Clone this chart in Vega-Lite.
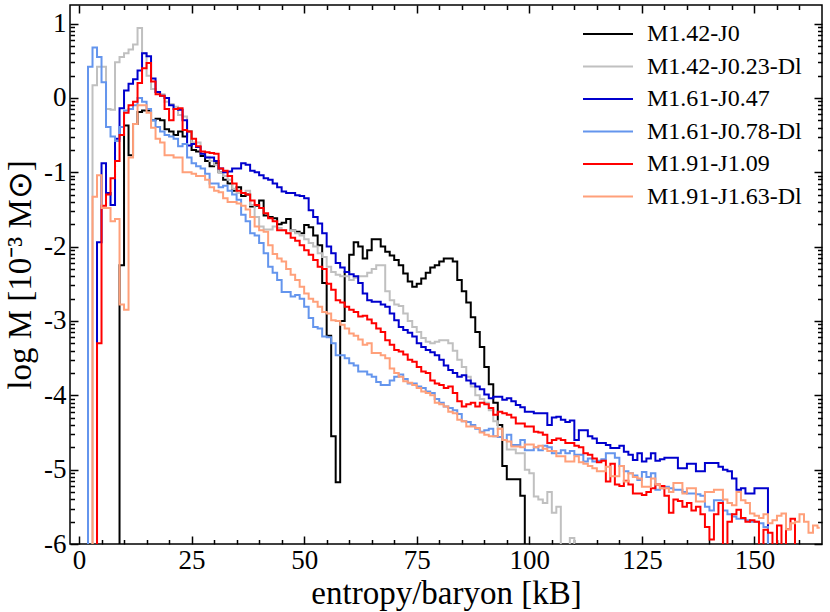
{
  "$schema": "https://vega.github.io/schema/vega-lite/v6.json",
  "width": 752,
  "height": 539,
  "autosize": "none",
  "padding": {"left": 70, "top": 5, "right": 8, "bottom": 68},
  "data": {
    "values": [
      {"x": 0.5, "a": -7, "b": -7, "c": -7, "d": -7, "e": -7, "f": -7},
      {"x": 1.5, "a": -7, "b": -7, "c": -7, "d": -7, "e": -7, "f": -7},
      {"x": 2.5, "a": -7, "b": -7, "c": -7, "d": 0.42, "e": -7, "f": -7},
      {"x": 3.5, "a": -7, "b": 0.17, "c": -7, "d": 0.68, "e": -7, "f": -1.33},
      {"x": 4.5, "a": -7, "b": 0.42, "c": -1.94, "d": 0.55, "e": -3.3, "f": -1.04},
      {"x": 5.5, "a": -7, "b": 0.42, "c": -0.88, "d": 0.21, "e": -1.45, "f": -1.48},
      {"x": 6.5, "a": -7, "b": -0.15, "c": -1.28, "d": -0.39, "e": -1.3, "f": -1.48},
      {"x": 7.5, "a": -7, "b": -0.16, "c": -1.44, "d": -0.52, "e": -1.08, "f": -1.66},
      {"x": 8.5, "a": -7, "b": 0.48, "c": -0.55, "d": -0.58, "e": -0.85, "f": -1.63},
      {"x": 9.5, "a": -2.25, "b": 0.55, "c": -0.14, "d": -0.39, "e": -0.5, "f": -2.78},
      {"x": 10.5, "a": -0.37, "b": 0.6, "c": 0.1, "d": -0.17, "e": -0.2, "f": -2.85},
      {"x": 11.5, "a": -0.77, "b": 0.65, "c": 0.19, "d": -0.15, "e": -0.1, "f": -0.8},
      {"x": 12.5, "a": -0.35, "b": 0.72, "c": 0.25, "d": -0.1, "e": -0.05, "f": -0.35},
      {"x": 13.5, "a": -0.19, "b": 0.94, "c": 0.37, "d": 0.0, "e": 0.2, "f": -0.1},
      {"x": 14.5, "a": -0.17, "b": 0.6, "c": 0.6, "d": -0.05, "e": 0.4, "f": -0.1},
      {"x": 15.5, "a": -0.17, "b": 0.3, "c": 0.56, "d": -0.15, "e": 0.47, "f": -0.2},
      {"x": 16.5, "a": -0.3, "b": 0.12, "c": 0.26, "d": -0.3, "e": 0.22, "f": -0.4},
      {"x": 17.5, "a": -0.28, "b": 0.08, "c": 0.08, "d": -0.39, "e": 0.05, "f": -0.55},
      {"x": 18.5, "a": -0.3, "b": 0.05, "c": 0.03, "d": -0.45, "e": 0.03, "f": -0.6},
      {"x": 19.5, "a": -0.42, "b": -0.05, "c": 0.0, "d": -0.5, "e": -0.15, "f": -0.77},
      {"x": 20.5, "a": -0.45, "b": -0.08, "c": -0.1, "d": -0.52, "e": -0.3, "f": -0.77},
      {"x": 21.5, "a": -0.5, "b": -0.12, "c": -0.15, "d": -0.55, "e": -0.15, "f": -0.8},
      {"x": 22.5, "a": -0.45, "b": -0.23, "c": -0.16, "d": -0.65, "e": -0.14, "f": -0.8},
      {"x": 23.5, "a": -0.52, "b": -0.25, "c": -0.3, "d": -0.62, "e": -0.43, "f": -1.0},
      {"x": 24.5, "a": -0.45, "b": -0.45, "c": -0.64, "d": -0.8, "e": -0.45, "f": -1.0},
      {"x": 25.5, "a": -0.7, "b": -0.6, "c": -0.62, "d": -0.88, "e": -0.55, "f": -1.02},
      {"x": 26.5, "a": -0.72, "b": -0.6, "c": -0.66, "d": -0.92, "e": -0.65, "f": -1.05},
      {"x": 27.5, "a": -0.78, "b": -0.75, "c": -0.75, "d": -0.95, "e": -0.72, "f": -1.05},
      {"x": 28.5, "a": -0.85, "b": -0.79, "c": -0.8, "d": -1.02, "e": -0.73, "f": -1.1},
      {"x": 29.5, "a": -0.92, "b": -0.85, "c": -0.8, "d": -1.15, "e": -0.74, "f": -1.2},
      {"x": 30.5, "a": -0.88, "b": -0.9, "c": -0.85, "d": -1.15, "e": -0.75, "f": -1.25},
      {"x": 31.5, "a": -1.0, "b": -1.0, "c": -0.95, "d": -1.2, "e": -0.95, "f": -1.27},
      {"x": 32.5, "a": -1.1, "b": -1.05, "c": -1.0, "d": -1.18, "e": -0.98, "f": -1.35},
      {"x": 33.5, "a": -1.15, "b": -1.1, "c": -0.99, "d": -1.25, "e": -1.05, "f": -1.4},
      {"x": 34.5, "a": -1.25, "b": -1.22, "c": -0.95, "d": -1.3, "e": -1.15, "f": -1.4},
      {"x": 35.5, "a": -1.2, "b": -1.28, "c": -0.95, "d": -1.37, "e": -1.25, "f": -1.42},
      {"x": 36.5, "a": -1.32, "b": -1.28, "c": -0.88, "d": -1.57, "e": -1.28, "f": -1.45},
      {"x": 37.5, "a": -1.3, "b": -1.25, "c": -0.9, "d": -1.66, "e": -1.3, "f": -1.5},
      {"x": 38.5, "a": -1.46, "b": -1.44, "c": -0.98, "d": -1.82, "e": -1.38, "f": -1.6},
      {"x": 39.5, "a": -1.45, "b": -1.6, "c": -1.0, "d": -1.85, "e": -1.44, "f": -1.73},
      {"x": 40.5, "a": -1.38, "b": -1.73, "c": -1.04, "d": -1.95, "e": -1.48, "f": -1.78},
      {"x": 41.5, "a": -1.58, "b": -1.77, "c": -1.08, "d": -2.09, "e": -1.55, "f": -1.8},
      {"x": 42.5, "a": -1.6, "b": -1.77, "c": -1.1, "d": -2.27, "e": -1.62, "f": -1.98},
      {"x": 43.5, "a": -1.62, "b": -1.73, "c": -1.15, "d": -2.35, "e": -1.66, "f": -2.1},
      {"x": 44.5, "a": -1.7, "b": -1.75, "c": -1.2, "d": -2.45, "e": -1.78, "f": -2.16},
      {"x": 45.5, "a": -1.68, "b": -1.78, "c": -1.26, "d": -2.61, "e": -1.78, "f": -2.2},
      {"x": 46.5, "a": -1.63, "b": -1.82, "c": -1.28, "d": -2.61, "e": -1.82, "f": -2.3},
      {"x": 47.5, "a": -1.78, "b": -1.78, "c": -1.28, "d": -2.67, "e": -1.88, "f": -2.38},
      {"x": 48.5, "a": -1.8, "b": -1.82, "c": -1.31, "d": -2.65, "e": -1.92, "f": -2.45},
      {"x": 49.5, "a": -1.82, "b": -1.85, "c": -1.32, "d": -2.7, "e": -1.98, "f": -2.54},
      {"x": 50.5, "a": -1.71, "b": -1.9, "c": -1.35, "d": -2.81, "e": -2.05, "f": -2.63},
      {"x": 51.5, "a": -1.74, "b": -1.95, "c": -1.51, "d": -2.96, "e": -2.11, "f": -2.7},
      {"x": 52.5, "a": -1.85, "b": -2.0, "c": -1.6, "d": -3.08, "e": -2.18, "f": -2.74},
      {"x": 53.5, "a": -1.98, "b": -2.09, "c": -1.69, "d": -3.1, "e": -2.27, "f": -2.81},
      {"x": 54.5, "a": -2.49, "b": -2.14, "c": -1.82, "d": -3.21, "e": -2.3, "f": -2.88},
      {"x": 55.5, "a": -3.2, "b": -2.27, "c": -2.0, "d": -3.22, "e": -2.5, "f": -2.9},
      {"x": 56.5, "a": -4.55, "b": -2.34, "c": -2.09, "d": -3.3, "e": -2.58, "f": -2.99},
      {"x": 57.5, "a": -5.17, "b": -2.38, "c": -2.22, "d": -3.46, "e": -2.72, "f": -3.0},
      {"x": 58.5, "a": -3.0, "b": -2.4, "c": -2.28, "d": -3.46, "e": -2.75, "f": -3.05},
      {"x": 59.5, "a": -2.34, "b": -2.4, "c": -2.34, "d": -3.5, "e": -2.81, "f": -3.1},
      {"x": 60.5, "a": -2.11, "b": -2.45, "c": -2.37, "d": -3.57, "e": -2.85, "f": -3.17},
      {"x": 61.5, "a": -1.94, "b": -2.42, "c": -2.4, "d": -3.6, "e": -2.88, "f": -3.2},
      {"x": 62.5, "a": -2.0, "b": -2.4, "c": -2.49, "d": -3.68, "e": -2.94, "f": -3.25},
      {"x": 63.5, "a": -2.16, "b": -2.4, "c": -2.63, "d": -3.68, "e": -2.93, "f": -3.32},
      {"x": 64.5, "a": -2.05, "b": -2.35, "c": -2.72, "d": -3.72, "e": -2.98, "f": -3.3},
      {"x": 65.5, "a": -1.9, "b": -2.3, "c": -2.74, "d": -3.75, "e": -3.03, "f": -3.43},
      {"x": 66.5, "a": -1.9, "b": -2.25, "c": -2.74, "d": -3.82, "e": -3.1, "f": -3.43},
      {"x": 67.5, "a": -2.0, "b": -2.25, "c": -2.78, "d": -3.86, "e": -3.15, "f": -3.46},
      {"x": 68.5, "a": -2.07, "b": -2.6, "c": -2.81, "d": -3.86, "e": -3.26, "f": -3.5},
      {"x": 69.5, "a": -2.12, "b": -2.72, "c": -2.9, "d": -3.8, "e": -3.32, "f": -3.64},
      {"x": 70.5, "a": -2.18, "b": -2.78, "c": -2.99, "d": -3.75, "e": -3.39, "f": -3.7},
      {"x": 71.5, "a": -2.25, "b": -2.8, "c": -3.08, "d": -3.72, "e": -3.41, "f": -3.75},
      {"x": 72.5, "a": -2.36, "b": -2.9, "c": -3.12, "d": -3.78, "e": -3.45, "f": -3.81},
      {"x": 73.5, "a": -2.47, "b": -3.0, "c": -3.16, "d": -3.84, "e": -3.52, "f": -3.83},
      {"x": 74.5, "a": -2.54, "b": -3.08, "c": -3.21, "d": -3.84, "e": -3.55, "f": -3.86},
      {"x": 75.5, "a": -2.5, "b": -3.15, "c": -3.3, "d": -3.88, "e": -3.62, "f": -3.9},
      {"x": 76.5, "a": -2.43, "b": -3.23, "c": -3.35, "d": -3.9, "e": -3.68, "f": -3.95},
      {"x": 77.5, "a": -2.35, "b": -3.28, "c": -3.39, "d": -3.95, "e": -3.7, "f": -3.97},
      {"x": 78.5, "a": -2.28, "b": -3.3, "c": -3.42, "d": -3.97, "e": -3.8, "f": -4.0},
      {"x": 79.5, "a": -2.25, "b": -3.28, "c": -3.46, "d": -4.05, "e": -3.84, "f": -4.1},
      {"x": 80.5, "a": -2.2, "b": -3.26, "c": -3.52, "d": -4.1, "e": -3.86, "f": -4.12},
      {"x": 81.5, "a": -2.16, "b": -3.26, "c": -3.6, "d": -4.15, "e": -3.9, "f": -4.15},
      {"x": 82.5, "a": -2.16, "b": -3.3, "c": -3.66, "d": -4.17, "e": -3.88, "f": -4.22},
      {"x": 83.5, "a": -2.2, "b": -3.4, "c": -3.7, "d": -4.2, "e": -3.97, "f": -4.24},
      {"x": 84.5, "a": -2.45, "b": -3.52, "c": -3.75, "d": -4.25, "e": -4.08, "f": -4.33},
      {"x": 85.5, "a": -2.6, "b": -3.62, "c": -3.73, "d": -4.35, "e": -4.15, "f": -4.35},
      {"x": 86.5, "a": -2.75, "b": -3.75, "c": -3.8, "d": -4.36, "e": -4.12, "f": -4.42},
      {"x": 87.5, "a": -2.95, "b": -3.88, "c": -3.84, "d": -4.4, "e": -4.1, "f": -4.42},
      {"x": 88.5, "a": -3.15, "b": -4.0, "c": -3.88, "d": -4.45, "e": -4.15, "f": -4.44},
      {"x": 89.5, "a": -3.35, "b": -4.05, "c": -3.92, "d": -4.49, "e": -4.1, "f": -4.5},
      {"x": 90.5, "a": -3.62, "b": -4.1, "c": -3.99, "d": -4.47, "e": -4.12, "f": -4.53},
      {"x": 91.5, "a": -3.85, "b": -4.2, "c": -4.04, "d": -4.45, "e": -4.17, "f": -4.55},
      {"x": 92.5, "a": -4.1, "b": -4.35, "c": -4.02, "d": -4.55, "e": -4.26, "f": -4.55},
      {"x": 93.5, "a": -4.4, "b": -4.45, "c": -4.02, "d": -4.56, "e": -4.22, "f": -4.45},
      {"x": 94.5, "a": -4.95, "b": -4.6, "c": -4.06, "d": -4.6, "e": -4.24, "f": -4.6},
      {"x": 95.5, "a": -5.13, "b": -4.73, "c": -4.04, "d": -4.53, "e": -4.26, "f": -4.62},
      {"x": 96.5, "a": -5.13, "b": -4.73, "c": -4.08, "d": -4.67, "e": -4.3, "f": -4.69},
      {"x": 97.5, "a": -5.13, "b": -4.78, "c": -4.13, "d": -4.67, "e": -4.38, "f": -4.69},
      {"x": 98.5, "a": -5.35, "b": -4.78, "c": -4.16, "d": -4.6, "e": -4.38, "f": -4.7},
      {"x": 99.5, "a": -7, "b": -5.0, "c": -4.22, "d": -4.74, "e": -4.42, "f": -4.66},
      {"x": 100.5, "b": -5.05, "c": -4.22, "d": -4.74, "e": -4.42, "f": -4.66},
      {"x": 101.5, "b": -5.36, "c": -4.24, "d": -4.7, "e": -4.49, "f": -4.7},
      {"x": 102.5, "b": -5.4, "c": -4.24, "d": -4.74, "e": -4.5, "f": -4.68},
      {"x": 103.5, "b": -5.45, "c": -4.24, "d": -4.68, "e": -4.53, "f": -4.72},
      {"x": 104.5, "b": -5.3, "c": -4.4, "d": -4.7, "e": -4.64, "f": -4.75},
      {"x": 105.5, "b": -5.58, "c": -4.3, "d": -4.78, "e": -4.6, "f": -4.75},
      {"x": 106.5, "b": -5.5, "c": -4.29, "d": -4.78, "e": -4.58, "f": -4.82},
      {"x": 107.5, "b": -7, "c": -4.33, "d": -4.74, "e": -4.6, "f": -4.82},
      {"x": 108.5, "b": -7, "c": -4.36, "d": -4.78, "e": -4.64, "f": -4.89},
      {"x": 109.5, "b": -5.92, "c": -4.34, "d": -4.75, "e": -4.64, "f": -4.89},
      {"x": 110.5, "b": -7, "c": -4.6, "d": -4.8, "e": -4.68, "f": -4.82},
      {"x": 111.5, "c": -4.47, "d": -4.8, "e": -4.7, "f": -4.9},
      {"x": 112.5, "c": -4.47, "d": -4.89, "e": -4.78, "f": -4.92},
      {"x": 113.5, "c": -4.55, "d": -4.85, "e": -4.8, "f": -4.95},
      {"x": 114.5, "c": -4.58, "d": -4.89, "e": -4.85, "f": -4.98},
      {"x": 115.5, "c": -4.64, "d": -4.88, "e": -4.9, "f": -5.02},
      {"x": 116.5, "c": -4.64, "d": -4.86, "e": -4.88, "f": -5.02},
      {"x": 117.5, "c": -4.67, "d": -4.78, "e": -5.16, "f": -4.96},
      {"x": 118.5, "c": -4.71, "d": -4.78, "e": -4.92, "f": -5.09},
      {"x": 119.5, "c": -4.71, "d": -4.84, "e": -5.2, "f": -5.09},
      {"x": 120.5, "c": -4.68, "d": -4.95, "e": -5.22, "f": -4.95},
      {"x": 121.5, "c": -4.76, "d": -5.02, "e": -5.15, "f": -5.16},
      {"x": 122.5, "c": -4.8, "d": -5.05, "e": -5.2, "f": -5.05},
      {"x": 123.5, "c": -4.87, "d": -5.08, "e": -5.32, "f": -5.1},
      {"x": 124.5, "c": -4.78, "d": -5.14, "e": -5.32, "f": -5.12},
      {"x": 125.5, "c": -4.89, "d": -5.03, "e": -5.34, "f": -5.23},
      {"x": 126.5, "c": -4.85, "d": -5.1, "e": -5.3, "f": -5.23},
      {"x": 127.5, "c": -4.78, "d": -5.05, "e": -5.25, "f": -5.12},
      {"x": 128.5, "c": -4.88, "d": -5.27, "e": -5.2, "f": -5.2},
      {"x": 129.5, "c": -4.86, "d": -5.25, "e": -5.22, "f": -5.25},
      {"x": 130.5, "c": -4.84, "d": -5.23, "e": -5.35, "f": -5.25},
      {"x": 131.5, "c": -4.84, "d": -5.25, "e": -5.58, "f": -5.3},
      {"x": 132.5, "c": -4.84, "d": -5.27, "e": -5.4, "f": -5.18},
      {"x": 133.5, "c": -4.98, "d": -5.27, "e": -5.42, "f": -5.18},
      {"x": 134.5, "c": -4.98, "d": -5.3, "e": -5.5, "f": -5.32},
      {"x": 135.5, "c": -4.92, "d": -5.32, "e": -5.45, "f": -5.25},
      {"x": 136.5, "c": -4.92, "d": -5.32, "e": -5.55, "f": -5.25},
      {"x": 137.5, "c": -5.02, "d": -5.33, "e": -5.5, "f": -5.43},
      {"x": 138.5, "c": -5.02, "d": -5.35, "e": -5.6, "f": -5.43},
      {"x": 139.5, "c": -4.91, "d": -5.5, "e": -5.77, "f": -5.3},
      {"x": 140.5, "c": -4.91, "d": -5.55, "e": -5.94, "f": -5.3},
      {"x": 141.5, "c": -4.91, "d": -5.41, "e": -5.6, "f": -5.27},
      {"x": 142.5, "c": -4.96, "d": -5.41, "e": -5.45, "f": -5.27},
      {"x": 143.5, "c": -5.0, "d": -5.55, "e": -6.3, "f": -5.4},
      {"x": 144.5, "c": -5.02, "d": -5.6, "e": -5.7, "f": -5.45},
      {"x": 145.5, "c": -5.12, "d": -5.63, "e": -5.6, "f": -5.48},
      {"x": 146.5, "c": -5.27, "d": -5.66, "e": -5.54, "f": -5.3},
      {"x": 147.5, "c": -5.25, "d": -5.66, "e": -5.65, "f": -5.41},
      {"x": 148.5, "c": -5.32, "d": -5.68, "e": -5.7, "f": -5.45},
      {"x": 149.5, "c": -5.32, "d": -5.7, "e": -5.68, "f": -5.59},
      {"x": 150.5, "c": -5.25, "d": -5.7, "e": -5.7, "f": -5.62},
      {"x": 151.5, "c": -5.25, "d": -5.72, "e": -6.3, "f": -5.65},
      {"x": 152.5, "c": -5.25, "d": -5.77, "e": -5.81, "f": -5.6},
      {"x": 153.5, "c": -7, "d": -7, "e": -5.85, "f": -5.72},
      {"x": 154.5, "e": -6.3, "f": -5.68},
      {"x": 155.5, "e": -5.75, "f": -5.62},
      {"x": 156.5, "e": -6.3, "f": -5.59},
      {"x": 157.5, "e": -5.8, "f": -5.8},
      {"x": 158.5, "e": -5.66, "f": -5.72},
      {"x": 159.5, "e": -6.3, "f": -5.7},
      {"x": 160.5, "e": -7, "f": -5.6},
      {"x": 161.5, "f": -5.7},
      {"x": 162.5, "f": -5.85},
      {"x": 163.5, "f": -5.75},
      {"x": 164.5, "f": -5.78}
    ]
  },
  "transform": [
    {"fold": ["a", "b", "c", "d", "e", "f"], "as": ["run", "logM"]},
    {"filter": "isValid(datum.logM)"}
  ],
  "layer": [
    {
      "mark": {"type": "line", "interpolate": "step", "strokeWidth": 2, "clip": true},
      "encoding": {
        "x": {
          "field": "x", "type": "quantitative",
          "scale": {"domain": [-2, 165], "nice": false, "zero": false},
          "axis": {
            "orient": "bottom", "values": [0, 25, 50, 75, 100, 125, 150],
            "tickSize": -8, "labelPadding": 11, "labelExpr": "'' + datum.value",
            "title": "entropy/baryon [kB]", "titlePadding": 4
          }
        },
        "y": {
          "field": "logM", "type": "quantitative",
          "scale": {"domain": [-6, 1.25], "nice": false, "zero": false},
          "axis": {
            "orient": "left", "values": [-6, -5, -4, -3, -2, -1, 0, 1],
            "tickSize": -8, "labelPadding": 12, "labelExpr": "'' + datum.value",
            "title": "log M [10⁻³ M⊙]", "titlePadding": 6
          }
        },
        "color": {
          "field": "run", "type": "nominal",
          "scale": {
            "domain": ["a", "b", "c", "d", "e", "f"],
            "range": ["#000000", "#c0c0c0", "#0000cd", "#6495ed", "#ff0000", "#ffa07a"]
          },
          "legend": {
            "orient": "none", "legendX": 526, "legendY": 17, "title": null, "padding": 0,
            "symbolType": "M-2.5,0H2.5", "symbolSize": 400, "symbolStrokeWidth": 2,
            "labelOffset": 27, "rowPadding": 8.5,
            "labelFont": "Liberation Serif", "labelFontSize": 24, "labelColor": "black",
            "labelExpr": "datum.label == 'a' ? 'M1.42-J0' : datum.label == 'b' ? 'M1.42-J0.23-Dl' : datum.label == 'c' ? 'M1.61-J0.47' : datum.label == 'd' ? 'M1.61-J0.78-Dl' : datum.label == 'e' ? 'M1.91-J1.09' : 'M1.91-J1.63-Dl'"
          }
        }
      }
    },
    {
      "mark": {"type": "point", "opacity": 0},
      "encoding": {
        "x": {
          "field": "x", "type": "quantitative",
          "axis": {
            "orient": "bottom", "labels": false, "title": null, "tickSize": -4.5,
            "values": [5, 10, 15, 20, 30, 35, 40, 45, 55, 60, 65, 70, 80, 85, 90, 95, 105, 110, 115, 120, 130, 135, 140, 145, 155, 160]
          }
        },
        "y": {
          "field": "logM", "type": "quantitative",
          "axis": {
            "orient": "left", "labels": false, "title": null, "tickSize": -4.5,
            "values": [-5.69897, -5.52288, -5.39794, -5.30103, -5.22185, -5.1549, -5.09691, -5.04576,
                       -4.69897, -4.52288, -4.39794, -4.30103, -4.22185, -4.1549, -4.09691, -4.04576,
                       -3.69897, -3.52288, -3.39794, -3.30103, -3.22185, -3.1549, -3.09691, -3.04576,
                       -2.69897, -2.52288, -2.39794, -2.30103, -2.22185, -2.1549, -2.09691, -2.04576,
                       -1.69897, -1.52288, -1.39794, -1.30103, -1.22185, -1.1549, -1.09691, -1.04576,
                       -0.69897, -0.52288, -0.39794, -0.30103, -0.22185, -0.1549, -0.09691, -0.04576,
                       0.30103, 0.47712, 0.60206, 0.69897, 0.77815, 0.8451, 0.90309, 0.95424]
          }
        }
      }
    },
    {
      "mark": {"type": "point", "opacity": 0},
      "encoding": {
        "x": {
          "field": "x", "type": "quantitative",
          "axis": {"orient": "top", "labels": false, "title": null, "tickSize": -8, "values": [0, 25, 50, 75, 100, 125, 150]}
        },
        "y": {
          "field": "logM", "type": "quantitative",
          "axis": {"orient": "right", "labels": false, "title": null, "tickSize": -8, "values": [-6, -5, -4, -3, -2, -1, 0, 1]}
        }
      }
    },
    {
      "mark": {"type": "point", "opacity": 0},
      "encoding": {
        "x": {
          "field": "x", "type": "quantitative",
          "axis": {
            "orient": "top", "labels": false, "title": null, "tickSize": -4.5,
            "values": [5, 10, 15, 20, 30, 35, 40, 45, 55, 60, 65, 70, 80, 85, 90, 95, 105, 110, 115, 120, 130, 135, 140, 145, 155, 160]
          }
        },
        "y": {
          "field": "logM", "type": "quantitative",
          "axis": {
            "orient": "right", "labels": false, "title": null, "tickSize": -4.5,
            "values": [-5.69897, -5.52288, -5.39794, -5.30103, -5.22185, -5.1549, -5.09691, -5.04576,
                       -4.69897, -4.52288, -4.39794, -4.30103, -4.22185, -4.1549, -4.09691, -4.04576,
                       -3.69897, -3.52288, -3.39794, -3.30103, -3.22185, -3.1549, -3.09691, -3.04576,
                       -2.69897, -2.52288, -2.39794, -2.30103, -2.22185, -2.1549, -2.09691, -2.04576,
                       -1.69897, -1.52288, -1.39794, -1.30103, -1.22185, -1.1549, -1.09691, -1.04576,
                       -0.69897, -0.52288, -0.39794, -0.30103, -0.22185, -0.1549, -0.09691, -0.04576,
                       0.30103, 0.47712, 0.60206, 0.69897, 0.77815, 0.8451, 0.90309, 0.95424]
          }
        }
      }
    }
  ],
  "resolve": {"axis": {"x": "independent", "y": "independent"}},
  "config": {
    "view": {"stroke": "black", "strokeWidth": 1.5},
    "axis": {
      "domain": false, "grid": false, "ticks": true, "tickColor": "black", "tickWidth": 1.5, "zindex": 1,
      "labelFont": "Liberation Serif", "labelFontSize": 27, "labelColor": "black",
      "labelOverlap": false, "labelFlush": false,
      "titleFont": "Liberation Serif", "titleFontSize": 33, "titleFontWeight": "normal", "titleColor": "black"
    }
  }
}
